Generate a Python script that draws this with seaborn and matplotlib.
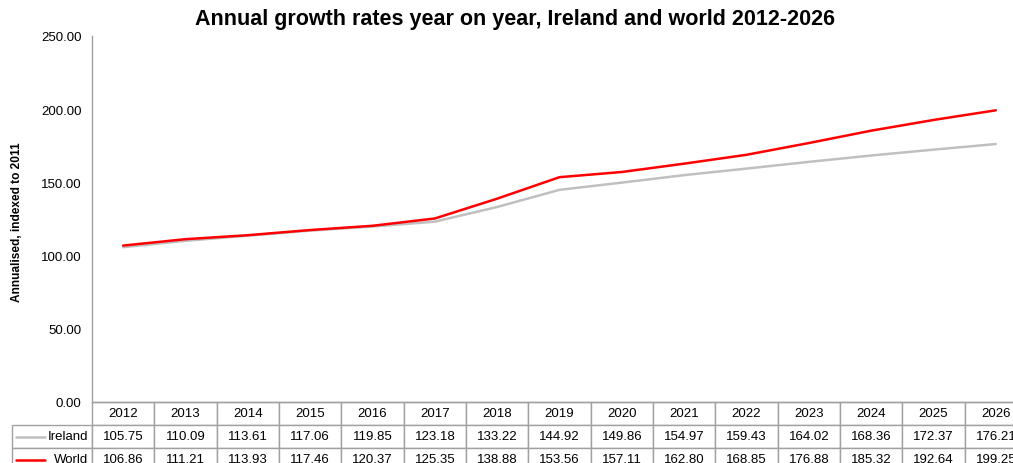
import matplotlib
matplotlib.use("Agg")
import matplotlib.pyplot as plt
import seaborn as sns
import pandas as pd
from matplotlib.table import Table
from matplotlib.lines import Line2D

years = [2012, 2013, 2014, 2015, 2016, 2017, 2018, 2019, 2020, 2021, 2022, 2023, 2024, 2025, 2026]
ireland = [105.75, 110.09, 113.61, 117.06, 119.85, 123.18, 133.22, 144.92, 149.86, 154.97, 159.43, 164.02, 168.36, 172.37, 176.21]
world = [106.86, 111.21, 113.93, 117.46, 120.37, 125.35, 138.88, 153.56, 157.11, 162.80, 168.85, 176.88, 185.32, 192.64, 199.25]
series_names = ["Ireland", "World"]
colors = {"Ireland": "#c0c0c0", "World": "#ff0000"}
y_ticks = [0, 50, 100, 150, 200, 250]
title = "Annual growth rates year on year, Ireland and world 2012-2026"
ylabel = "Annualised, indexed to 2011"

sns.set_style("white")
plt.rcParams["font.family"] = ["Liberation Sans", "DejaVu Sans"]
plt.rcParams["text.color"] = "black"
plt.rcParams["ytick.labelcolor"] = "black"

W, H = 1013, 464
fig = plt.figure(figsize=(W / 100, H / 100), dpi=100)
ax_l, ax_r, ax_t, ax_b = 92, 1027, 37, 403
ax = fig.add_axes([ax_l / W, (H - ax_b) / H, (ax_r - ax_l) / W, (ax_b - ax_t) / H])

df = pd.DataFrame({
    "pos": list(range(len(years))) * 2,
    "value": ireland + world,
    "series": ["Ireland"] * len(years) + ["World"] * len(years),
})
sns.lineplot(data=df, x="pos", y="value", hue="series", hue_order=series_names,
             palette=colors, linewidth=1.8, legend=False, ax=ax)

ax.set_xlim(-0.5, len(years) - 0.5)
ax.set_ylim(0, 250)
ax.set_yticks(y_ticks)
ax.set_yticklabels([f"{v:.2f}" for v in y_ticks], fontsize=9.5, color="black")
ax.set_xticks([])
ax.set_xlabel("")
ax.set_ylabel("")
ax.tick_params(axis="y", direction="out", length=0, pad=7.5)
for s in ["top", "right"]:
    ax.spines[s].set_visible(False)
ax.spines["left"].set_color("#a0a0a0")
ax.spines["bottom"].set_color("#a0a0a0")
ax.spines["left"].set_linewidth(1)
ax.spines["bottom"].set_linewidth(1)

fig.text(17 / W, 1 - 222 / H, ylabel, rotation=90, ha="center", va="center",
         fontsize=8.6, fontweight="bold", color="black")
fig.text(515 / W, 1 - 20 / H, title, ha="center", va="center", fontsize=15.5,
         fontweight="bold", color="black")

# data table below the axes
ax_w = ax_r - ax_l
ax_h = ax_b - ax_t
label_w = 80
col_w = ax_w / len(years)
row_h = 23
tb = Table(ax, bbox=[-label_w / ax_w, -3 * row_h / ax_h, (ax_w + label_w) / ax_w, 3 * row_h / ax_h])
edge = "#a0a0a0"
c = tb.add_cell(0, 0, label_w, row_h, text="")
c.visible_edges = ""
for j, y in enumerate(years):
    c = tb.add_cell(0, j + 1, col_w, row_h, text=str(y), loc="center")
    c.set_edgecolor(edge)
for i, (name, vals) in enumerate(zip(series_names, [ireland, world])):
    c = tb.add_cell(i + 1, 0, label_w, row_h, text=name, loc="right")
    c.set_edgecolor(edge)
    c.PAD = 0.05
    for j, v in enumerate(vals):
        c = tb.add_cell(i + 1, j + 1, col_w, row_h, text=f"{v:.2f}", loc="center")
        c.set_edgecolor(edge)
tb.auto_set_font_size(False)
tb.set_fontsize(9.5)
for cell in tb.get_celld().values():
    cell.set_linewidth(1)
    cell.get_text().set_color("black")
ax.add_table(tb)

# legend keys inside row labels
for i, name in enumerate(series_names):
    yk = 1 - (ax_b + row_h * (i + 1) + row_h / 2) / H
    fig.add_artist(Line2D([16 / W, 45 / W], [yk, yk], color=colors[name], linewidth=1.8))

fig.savefig("out.png", dpi=100)
